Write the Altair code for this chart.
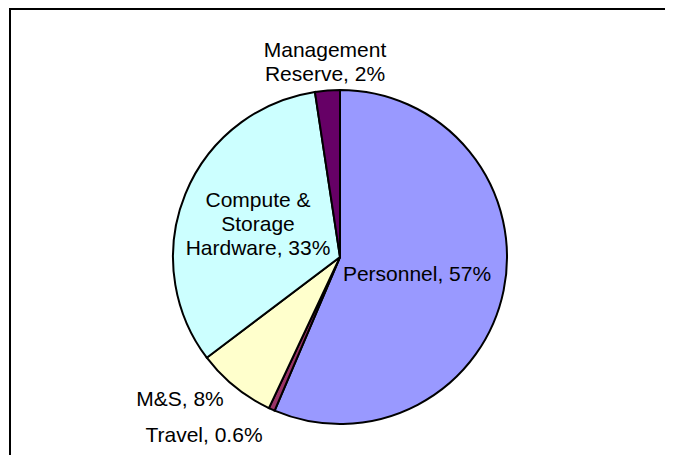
import altair as alt
import pandas as pd

# Data
categories = ["Personnel", "Travel", "M&S", "Compute & Storage Hardware", "Management Reserve"]
values = [56.4, 0.6, 7.7, 32.9, 2.4]
colors = ["#9999FF", "#993366", "#FFFFCC", "#CCFFFF", "#660066"]

label_texts = [
    ["Personnel, 57%"],
    ["Travel, 0.6%"],
    ["M&S, 8%"],
    ["Compute &", "Storage", "Hardware, 33%"],
    ["Management", "Reserve, 2%"],
]

# Layout (pixels in plot coordinates)
W, H = 657, 447
CX, CY, R = 332, 249, 167
label_pos = [(409, 273), (196, 434), (172, 398), (250, 199), (317, 49)]

df = pd.DataFrame({"category": categories, "value": values, "order": list(range(len(categories)))})

pie = alt.Chart(df).mark_arc(outerRadius=R, stroke="black", strokeWidth=2).encode(
    theta=alt.Theta("value:Q", stack=True),
    color=alt.Color("category:N", scale=alt.Scale(domain=categories, range=colors), legend=None),
    order=alt.Order("order:Q"),
    x=alt.value(CX),
    y=alt.value(CY),
)

rows = []
for t, (px, py) in zip(label_texts, label_pos):
    rows.append({"text": t, "px": px, "py": py})
ldf = pd.DataFrame(rows)

labels = alt.Chart(ldf).mark_text(
    font="Liberation Sans", fontSize=21, align="center", baseline="alphabetic", lineHeight=24, color="black"
).encode(
    x=alt.X("px:Q", scale=None),
    y=alt.Y("py:Q", scale=None),
    text="text",
)

frame = pd.DataFrame({"a": [0]})
top_line = alt.Chart(frame).mark_rule(color="black", strokeWidth=2).encode(
    x=alt.value(1), x2=alt.value(W), y=alt.value(1)
)
left_line = alt.Chart(frame).mark_rule(color="black", strokeWidth=2).encode(
    x=alt.value(2), y=alt.value(0), y2=alt.value(H)
)

chart = alt.layer(pie, labels, top_line, left_line).properties(
    width=W, height=H, padding=0, autosize=alt.AutoSizeParams(type="none")
).configure_view(stroke=None)

chart.save("out.html", embed_options={"renderer": "svg", "actions": False})
